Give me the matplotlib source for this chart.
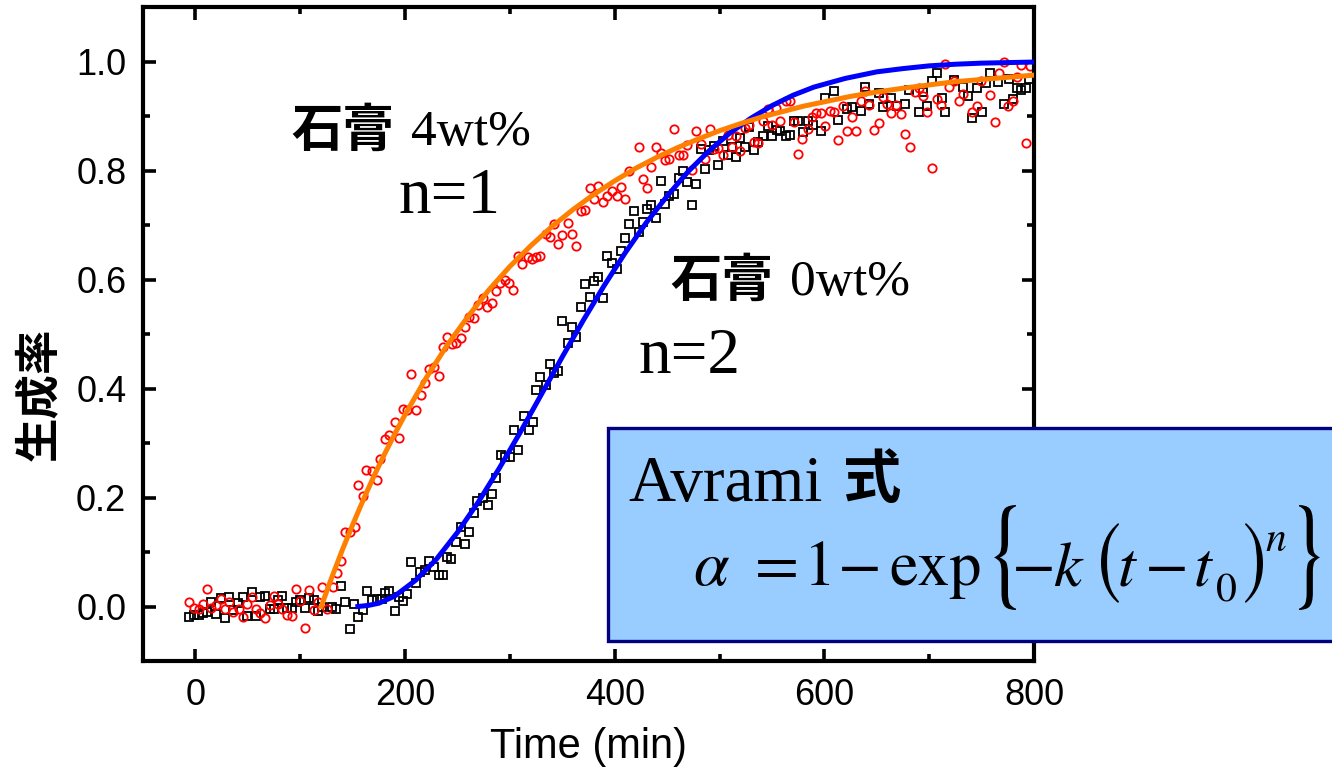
import matplotlib
matplotlib.use('Agg')

import matplotlib.pyplot as plt
from matplotlib.patches import Rectangle, PathPatch
from matplotlib.textpath import TextPath
from matplotlib.font_manager import FontProperties
from matplotlib.transforms import Affine2D
from matplotlib.ticker import MultipleLocator

# gypsum 4wt% (red circles)
red_t = [-6, -1, 3, 7, 11, 15, 20, 24, 28, 32, 36, 42, 45, 49, 54, 58, 62, 66, 71, 75,
         79, 83, 87, 92, 96, 100, 105, 108, 113, 117, 121, 126, 131, 135, 139, 143, 147, 152, 155, 160,
         163, 168, 173, 176, 181, 185, 190, 194, 198, 202, 206, 210, 215, 219, 223, 228, 232, 236, 240, 245,
         249, 253, 257, 261, 266, 270, 274, 278, 283, 287, 291, 295, 299, 303, 308, 312, 317, 321, 325, 329,
         334, 338, 342, 346, 350, 355, 359, 363, 368, 372, 376, 380, 384, 389, 393, 397, 402, 406, 410, 414,
         423, 427, 431, 435, 439, 444, 448, 452, 457, 461, 465, 469, 474, 478, 482, 486, 491, 495, 499, 503,
         508, 512, 516, 520, 524, 528, 533, 537, 541, 546, 550, 554, 558, 563, 567, 571, 575, 579, 584, 588,
         592, 597, 601, 605, 609, 613, 618, 622, 626, 630, 635, 639, 643, 647, 652, 656, 660, 664, 668, 673,
         677, 682, 686, 690, 694, 698, 703, 707, 711, 715, 719, 724, 728, 732, 741, 746, 749, 758, 763, 767,
         771, 775, 780, 784, 788, 792, 796]
red_a = [0.008, -0.003, -0.005, 0.005, 0.032, -0.003, 0.003, 0.013, -0.005, 0.009, -0.011, -0.005, -0.019, 0.005, 0.018, -0.005, -0.012, -0.022, 0.003, 0.020,
         0.005, -0.005, -0.015, -0.018, 0.032, 0.011, -0.040, 0.031, -0.006, 0.009, 0.036, -0.004, 0.036, 0.061, 0.083, 0.136, 0.136, 0.146, 0.223, 0.203,
         0.251, 0.248, 0.232, 0.270, 0.307, 0.315, 0.338, 0.309, 0.362, 0.361, 0.426, 0.360, 0.388, 0.410, 0.436, 0.439, 0.423, 0.477, 0.495, 0.482,
         0.483, 0.492, 0.513, 0.532, 0.529, 0.554, 0.566, 0.549, 0.557, 0.578, 0.594, 0.599, 0.594, 0.581, 0.643, 0.629, 0.641, 0.637, 0.641, 0.643,
         0.684, 0.678, 0.702, 0.665, 0.682, 0.704, 0.684, 0.662, 0.725, 0.727, 0.768, 0.748, 0.771, 0.743, 0.754, 0.762, 0.754, 0.770, 0.748, 0.800,
         0.843, 0.785, 0.768, 0.807, 0.843, 0.833, 0.820, 0.821, 0.877, 0.829, 0.829, 0.847, 0.801, 0.873, 0.849, 0.821, 0.876, 0.839, 0.841, 0.829,
         0.866, 0.843, 0.864, 0.835, 0.878, 0.884, 0.853, 0.850, 0.890, 0.913, 0.884, 0.914, 0.890, 0.927, 0.927, 0.889, 0.831, 0.858, 0.877, 0.899,
         0.905, 0.905, 0.881, 0.910, 0.907, 0.856, 0.919, 0.872, 0.899, 0.872, 0.928, 0.946, 0.921, 0.875, 0.887, 0.934, 0.922, 0.905, 0.921, 0.903,
         0.867, 0.843, 0.944, 0.951, 0.936, 0.908, 0.804, 0.931, 0.921, 0.995, 0.954, 0.965, 0.928, 0.940, 0.907, 0.919, 0.965, 0.938, 0.889, 0.979,
         0.999, 0.919, 0.928, 0.972, 0.993, 0.850, 0.991]

# gypsum 0wt% (black squares)
blk_t = [-6, -1, 3, 7, 11, 15, 20, 24, 28, 32, 36, 41, 45, 49, 54, 58, 62, 66, 71, 75,
         79, 83, 87, 92, 96, 100, 105, 108, 113, 117, 121, 130, 134, 139, 143, 147, 151, 155, 160, 164,
         168, 173, 178, 181, 185, 190, 194, 198, 202, 206, 210, 214, 219, 223, 228, 232, 236, 240, 244, 249,
         253, 257, 261, 266, 269, 274, 279, 283, 287, 292, 295, 300, 304, 308, 313, 318, 322, 325, 329, 334,
         338, 342, 346, 350, 355, 359, 363, 368, 372, 376, 380, 384, 389, 393, 397, 402, 406, 410, 414, 418,
         423, 427, 431, 435, 439, 444, 448, 452, 457, 461, 465, 469, 474, 478, 482, 486, 490, 495, 499, 503,
         508, 512, 516, 520, 524, 528, 533, 537, 541, 546, 550, 555, 558, 563, 567, 571, 575, 580, 584, 589,
         597, 601, 609, 613, 622, 626, 635, 639, 643, 652, 656, 664, 669, 677, 681, 690, 694, 698, 703, 707,
         712, 715, 724, 732, 737, 741, 746, 750, 754, 758, 766, 771, 776, 780, 784, 788, 792, 795]
blk_a = [-0.019, -0.015, -0.015, -0.012, -0.011, 0.009, -0.013, 0.015, -0.021, 0.018, -0.006, 0.006, 0.018, -0.018, 0.026, -0.017, 0.017, 0.020, -0.005, -0.005,
         0.012, 0.020, -0.003, -0.003, 0.009, 0.012, -0.003, 0.015, 0.012, -0.009, 0.000, 0.000, -0.005, 0.038, 0.008, -0.041, 0.005, -0.019, -0.007, 0.028,
         0.012, 0.013, 0.014, 0.025, 0.029, -0.008, 0.018, 0.010, 0.023, 0.081, 0.044, 0.064, 0.067, 0.083, 0.073, 0.057, 0.057, 0.091, 0.088, 0.119,
         0.145, 0.115, 0.137, 0.171, 0.194, 0.199, 0.187, 0.207, 0.236, 0.278, 0.275, 0.275, 0.324, 0.288, 0.350, 0.324, 0.338, 0.398, 0.421, 0.407,
         0.445, 0.428, 0.433, 0.523, 0.484, 0.513, 0.494, 0.549, 0.592, 0.568, 0.598, 0.605, 0.566, 0.643, 0.630, 0.619, 0.653, 0.676, 0.702, 0.725,
         0.688, 0.705, 0.729, 0.737, 0.713, 0.780, 0.739, 0.754, 0.757, 0.786, 0.800, 0.778, 0.737, 0.776, 0.839, 0.803, 0.837, 0.845, 0.810, 0.855,
         0.829, 0.843, 0.825, 0.860, 0.843, 0.880, 0.837, 0.853, 0.864, 0.881, 0.864, 0.875, 0.873, 0.864, 0.866, 0.890, 0.890, 0.870, 0.891, 0.883,
         0.873, 0.933, 0.946, 0.893, 0.913, 0.916, 0.910, 0.954, 0.922, 0.942, 0.917, 0.933, 0.919, 0.922, 0.948, 0.908, 0.944, 0.919, 0.965, 0.979,
         0.933, 0.908, 0.966, 0.954, 0.936, 0.897, 0.951, 0.908, 0.960, 0.979, 0.963, 0.922, 0.968, 0.932, 0.951, 0.948, 0.951, 0.968]

# Avrami fit curves
fit1_t = [120, 130, 140, 150, 160, 170, 180, 190, 200, 220, 240, 260, 280, 300, 320, 340, 360, 380, 400,
          420, 440, 460, 480, 500, 520, 540, 560, 580, 600, 625, 650, 675, 700, 725, 750, 775, 800]
fit1_a = [0.0, 0.053, 0.103, 0.150, 0.195, 0.238, 0.278, 0.316, 0.352, 0.419, 0.479, 0.532, 0.581, 0.624, 0.662, 0.697, 0.728, 0.756, 0.781,
          0.804, 0.824, 0.842, 0.858, 0.873, 0.886, 0.898, 0.908, 0.918, 0.926, 0.936, 0.944, 0.951, 0.957, 0.963, 0.967, 0.971, 0.975]
fit2_t = [155, 165, 175, 190, 210, 230, 250, 270, 290, 310, 330, 350, 370, 390, 410, 430,
          450, 470, 490, 510, 530, 550, 570, 590, 620, 650, 675, 700, 725, 750, 775, 800]
fit2_a = [0.0, 0.002, 0.006, 0.019, 0.048, 0.087, 0.136, 0.192, 0.254, 0.320, 0.389, 0.458, 0.525, 0.589, 0.649, 0.704,
          0.753, 0.798, 0.836, 0.869, 0.896, 0.919, 0.938, 0.953, 0.969, 0.981, 0.987, 0.992, 0.995, 0.997, 0.998, 0.999]

W, H = 1332, 778
CJK = 'Noto Sans CJK JP'
SERIF = 'Liberation Serif'
SANS = 'Liberation Sans'
STIX = 'STIXGeneral'
plt.rcParams['mathtext.fontset'] = 'stix'


def fx(x):
    return x / W


def fy(y):
    return 1 - y / H


fig = plt.figure(figsize=(W / 100, H / 100), dpi=100)
ax = fig.add_axes([143 / W, 1 - 661 / H, 891 / W, 654 / H])

ax.plot(blk_t, blk_a, 's', ms=5.5, mfc='none', mec='black', mew=1.3, zorder=2)
ax.plot(red_t, red_a, 'o', ms=6, mfc='none', mec='red', mew=1.3, zorder=2)
ax.plot(fit2_t, fit2_a, '-', color='#0000ff', lw=3.6, zorder=3)
ax.plot(fit1_t, fit1_a, '-', color='#ff8000', lw=3.6, zorder=3)

ax.set_xlim(-50, 800)
ax.set_ylim(-0.1, 1.1)
ax.set_xticks([0, 200, 400, 600, 800])
ax.set_yticks([0.0, 0.2, 0.4, 0.6, 0.8, 1.0])
ax.set_yticklabels(['0.0', '0.2', '0.4', '0.6', '0.8', '1.0'])
ax.xaxis.set_minor_locator(MultipleLocator(100))
ax.yaxis.set_minor_locator(MultipleLocator(0.1))
ax.tick_params(which='both', direction='in', top=True, right=True, width=2.6)
ax.tick_params(which='major', length=9, labelsize=26, pad=12)
ax.tick_params(which='minor', length=5)
for lab in ax.get_xticklabels() + ax.get_yticklabels():
    lab.set_fontfamily(SANS)
for sp in ax.spines.values():
    sp.set_linewidth(3)

ax.set_xlabel('Time (min)', fontsize=30, fontfamily=SANS, labelpad=10)
# y label sits below the axes centre in the original
fig.text(fx(40), fy(394), '生成率', rotation=90, fontsize=32, fontfamily=CJK, fontweight='bold',
         ha='center', va='center')

# sample labels
fig.text(fx(291), fy(130), '石膏', fontsize=37, fontfamily=CJK, fontweight='bold', va='center')
fig.text(fx(411), fy(133), '4wt%', fontsize=37, fontfamily=SERIF, va='center')
fig.text(fx(398), fy(197), 'n=1', fontsize=47, fontfamily=SERIF, va='center')
fig.text(fx(670), fy(280), '石膏', fontsize=37, fontfamily=CJK, fontweight='bold', va='center')
fig.text(fx(790), fy(283), '0wt%', fontsize=37, fontfamily=SERIF, va='center')
fig.text(fx(638), fy(357), 'n=2', fontsize=47, fontfamily=SERIF, va='center')

# Avrami box
box = Rectangle((fx(608), fy(641)), 0.6, (641 - 428) / H, transform=fig.transFigure,
                facecolor='#99ccff', edgecolor='#000080', lw=2.4, zorder=5)
fig.patches.append(box)
fig.text(fx(628), fy(485), 'Avrami', fontsize=47, fontfamily=SERIF, va='center', zorder=6)
fig.text(fx(843), fy(481), '式', fontsize=42, fontfamily=CJK, fontweight='bold', va='center', zorder=6)


def put(s, x, y, size, family=STIX):
    fig.text(fx(x), fy(y), s, fontsize=size, fontfamily=family, va='baseline', zorder=6)


def tall(ch, x0, x1, y0, y1):
    # stretched delimiter drawn from its glyph outline into a pixel box
    tp = TextPath((0, 0), ch, size=1, prop=FontProperties(family=STIX))
    bb = tp.get_extents()
    tr = (Affine2D().translate(-bb.x0, -bb.y0)
          .scale((x1 - x0) / bb.width, (y1 - y0) / bb.height)
          .translate(x0, H - y1).scale(1 / 100) + fig.dpi_scale_trans)
    fig.patches.append(PathPatch(tp, transform=tr, facecolor='black', edgecolor='none', zorder=6))


# alpha = 1 - exp{-k(t - t0)^n}
put(r'$\alpha$', 693, 585, 46)
put('=', 755, 585, 46)
put('1', 804, 585, 46)
put('\u2212', 838, 585, 46)
put('exp', 889, 585, 46)
tall('{', 994, 1016, 505, 610)
put('\u2212', 1012, 585, 46)
put(r'$k$', 1053, 585, 46)
tall('(', 1101, 1119, 523, 603)
put(r'$t$', 1117, 585, 46)
put('\u2212', 1145, 585, 46)
put(r'$t$', 1193, 585, 46)
put('0', 1216, 602, 30)
tall(')', 1245, 1263, 523, 603)
put(r'$n$', 1265, 551, 30)
tall('}', 1299, 1320, 505, 610)

fig.savefig('out.png', dpi=100)
